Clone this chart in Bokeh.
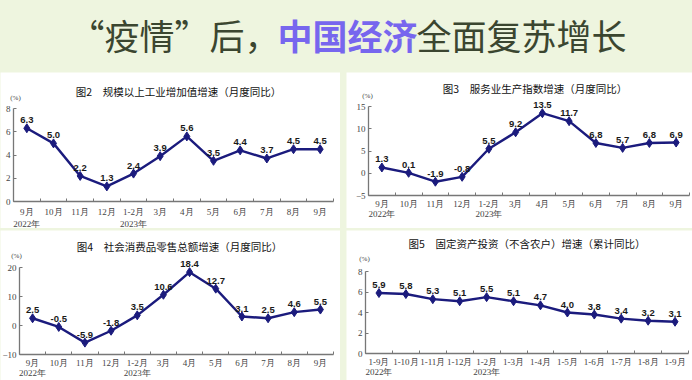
from bokeh.plotting import figure
from bokeh.layouts import column, row
from bokeh.models import Range1d, FixedTicker, Label, LabelSet, ColumnDataSource
from bokeh.core.properties import value
from bokeh.embed import file_html
from bokeh.resources import INLINE

# ---------------- data ----------------
months = ["9月", "10月", "11月", "12月", "1-2月", "3月", "4月", "5月", "6月", "7月", "8月", "9月"]
cum_months = ["1-9月", "1-10月", "1-11月", "1-12月", "1-2月", "1-3月", "1-4月",
              "1-5月", "1-6月", "1-7月", "1-8月", "1-9月"]
year_marks = {0: "2022年", 4: "2023年"}

industry = [6.3, 5.0, 2.2, 1.3, 2.4, 3.9, 5.6, 3.5, 4.4, 3.7, 4.5, 4.5]
services = [1.3, 0.1, -1.9, -0.8, 5.5, 9.2, 13.5, 11.7, 6.8, 5.7, 6.8, 6.9]
retail = [2.5, -0.5, -5.9, -1.8, 3.5, 10.6, 18.4, 12.7, 3.1, 2.5, 4.6, 5.5]
investment = [5.9, 5.8, 5.3, 5.1, 5.5, 5.1, 4.7, 4.0, 3.8, 3.4, 3.2, 3.1]

ticks_industry = [0, 2, 4, 6, 8]
ticks_services = [-5, 0, 5, 10, 15]
ticks_retail = [-10, 0, 10, 20]
ticks_investment = [0, 2, 4, 6, 8]

titles = ["图2　规模以上工业增加值增速（月度同比）",
          "图3　服务业生产指数增速（月度同比）",
          "图4　社会消费品零售总额增速（月度同比）",
          "图5　固定资产投资（不含农户）增速（累计同比）"]

# ---------------- style ----------------
BG = "#eef5df"
LINE = "#1b1b7d"
AXIS = "#777777"
TICKTXT = "#444444"
SERIF = "Liberation Serif"
CJK = "Noto Sans CJK SC"


def panel(title, cats, vals, yticks, width, height, ax_left, ax_right, tick_top, tick_bottom,
          title_dy, title_dx, pct_dy, pct_dx, lab_standoff, lab_lh):
    """Panel whose frame fills the canvas; the axes sit at fixed locations inside it.
    ax_left/ax_right: pixel columns of the x-axis ends, tick_top/tick_bottom: pixel rows
    (from the panel top) of the highest and lowest y ticks."""
    n = len(cats)
    xs = list(range(n))
    x0, x1 = -0.5, n - 0.5
    y0, y1 = yticks[0], yticks[-1]
    xu = (x1 - x0) / (ax_right - ax_left)          # data units per pixel
    yu = (y1 - y0) / (tick_bottom - tick_top)
    p = figure(width=width, height=height, output_backend="svg", toolbar_location=None,
               x_range=Range1d(x0 - ax_left * xu, x1 + (width - ax_right) * xu),
               y_range=Range1d(y0 - (height - tick_bottom) * yu, y1 + tick_top * yu),
               min_border=0, min_border_left=0, min_border_right=0,
               min_border_top=0, min_border_bottom=0,
               background_fill_color="white", border_fill_color="white",
               outline_line_color=None)
    p.grid.visible = False

    # x axis: labels at category centres, ticks at category boundaries
    xa = p.xaxis[0]
    xa.fixed_location = y0
    xa.bounds = (x0, x1)
    xa.ticker = FixedTicker(ticks=xs, minor_ticks=[i - 0.5 for i in range(n + 1)])
    xa.major_label_overrides = {
        i: (cats[i] + ("\n" + year_marks[i] if i in year_marks else "")) for i in xs}
    xa.major_tick_line_color = None
    xa.major_tick_in = 0
    xa.major_tick_out = 0
    xa.minor_tick_in = 3
    xa.minor_tick_out = 0
    xa.minor_tick_line_color = AXIS
    xa.axis_line_color = AXIS
    xa.axis_line_width = 1.3
    xa.major_label_text_font = SERIF
    xa.major_label_text_font_size = "9px"
    xa.major_label_text_color = TICKTXT
    xa.major_label_standoff = lab_standoff
    xa.major_label_text_line_height = lab_lh

    ya = p.yaxis[0]
    ya.fixed_location = x0
    ya.bounds = (y0, y1)
    ya.ticker = FixedTicker(ticks=yticks, minor_ticks=[])
    ya.major_tick_in = 3
    ya.major_tick_out = 0
    ya.major_tick_line_color = AXIS
    ya.minor_tick_line_color = None
    ya.axis_line_color = AXIS
    ya.axis_line_width = 1.3
    ya.major_label_text_font = SERIF
    ya.major_label_text_font_size = "9px"
    ya.major_label_text_color = TICKTXT
    ya.major_label_standoff = 3

    src = ColumnDataSource(dict(x=xs, y=vals, lab=["%.1f" % v for v in vals]))
    p.line("x", "y", source=src, line_color=LINE, line_width=2.4)
    p.scatter("x", "y", source=src, marker="diamond", size=9, fill_color=LINE, line_color=LINE)
    p.add_layout(LabelSet(x="x", y="y", text="lab", source=src, text_align="center",
                          text_baseline="bottom", y_offset=5,
                          text_font=value("Liberation Sans"), text_font_style="bold",
                          text_font_size=value("9.5px"), text_color="#1a1a1a"))

    p.add_layout(Label(x=x0, y=y1, text="(%)", text_align="center",
                       text_baseline="middle", x_offset=pct_dx, y_offset=pct_dy,
                       text_font=SERIF, text_font_size="7px", text_color=TICKTXT))
    p.add_layout(Label(x=(n - 1) / 2, y=y1, text=title, text_align="center",
                       text_baseline="middle", x_offset=title_dx, y_offset=title_dy,
                       text_font=CJK, text_font_size="10.5px", text_color="#111111"))
    return p


# panel(title, cats, vals, ticks, width, height, ax_left, ax_right, tick_top, tick_bottom,
#       title_dy, title_dx, pct_dy, pct_dx, lab_standoff, lab_lh)
p2 = panel(titles[0], months, industry, ticks_industry, 340, 156,
           13, 333, 36, 129, 17, 5, 11, 2, 5, 1.2)
p3 = panel(titles[1], months, services, ticks_services, 346, 156,
           22, 343, 34, 123, 18, 6, 11, -1, 3, 1.05)
p4 = panel(titles[2], months, retail, ticks_retail, 340, 150,
           19, 333, 37, 124, 21, 3, 12, -3, 3, 1.05)
p5 = panel(titles[3], cum_months, investment, ticks_investment, 346, 150,
           19, 342, 41, 123, 28, 0, 13, -1, 3, 1.05)

# ---------------- page title ----------------
t = figure(width=692, height=70, output_backend="svg", toolbar_location=None,
           x_range=Range1d(0, 692), y_range=Range1d(0, 70),
           min_border=0, background_fill_color=BG, border_fill_color=BG,
           outline_line_color=None)
t.axis.visible = False
t.grid.visible = False
title_parts = ["“疫情”后，", "中国经济", "全面复苏增长"]
title_x = [69, 277, 416]
title_colors = ["#3b4630", "#7766ee", "#3b4630"]
title_styles = ["normal", "bold", "normal"]
for txt, x0, c, s in zip(title_parts, title_x, title_colors, title_styles):
    t.text(x=[x0], y=[36], text=[txt], text_align="left", text_baseline="middle",
           text_font=value(CJK), text_font_size="35px", text_color=c, text_font_style=s)

layout = column(t, row(p2, p3, spacing=6), row(p4, p5, spacing=6), spacing=2,
                styles={"background-color": BG})

open("out.html", "w").write(file_html(layout, INLINE))
